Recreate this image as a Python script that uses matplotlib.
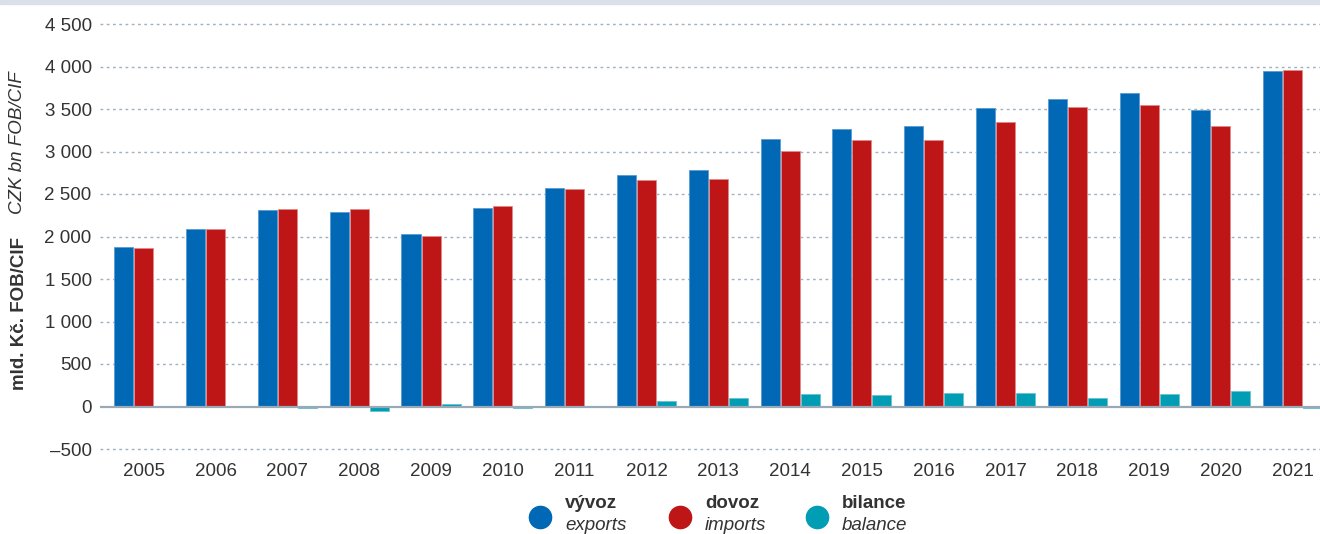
import numpy as np
import matplotlib
matplotlib.use("Agg")
import matplotlib.pyplot as plt
from matplotlib.patches import Rectangle
from matplotlib.lines import Line2D

plt.rcParams['font.family'] = ['Liberation Sans', 'DejaVu Sans']

# data (mld. Kč)
years = ['2005', '2006', '2007', '2008', '2009', '2010', '2011', '2012', '2013',
         '2014', '2015', '2016', '2017', '2018', '2019', '2020', '2021']
exports = [1879, 2087, 2311, 2283, 2035, 2339, 2570, 2728, 2787,
           3150, 3263, 3303, 3512, 3618, 3692, 3484, 3949]
imports = [1870, 2087, 2328, 2327, 2004, 2359, 2563, 2660, 2681,
           3004, 3133, 3138, 3350, 3519, 3543, 3303, 3961]
balance = [9, 0, -22, -48, 28, -22, 5, 62, 104,
           144, 130, 162, 160, 96, 146, 181, -12]
yticks = [-500, 0, 500, 1000, 1500, 2000, 2500, 3000, 3500, 4000, 4500]

c_exp = '#0068b4'
c_imp = '#be1516'
c_bal = '#009db5'
txt = '#333333'
grid_c = '#a3b1bf'
fs = 13.5

W, H = 1320, 534
fig = plt.figure(figsize=(W / 100, H / 100), dpi=100)

# thin band at the very top
fig.patches.append(Rectangle((0, 1 - 3.5 / H), 1, 3.5 / H, transform=fig.transFigure,
                             color='#d9e0e7', zorder=0))

ax = fig.add_axes([100 / W, (H - 449) / H, 1 - 100 / W, 425 / H])

x = np.arange(len(years))
bw = 0.265
step = 0.279
ax.bar(x - step, exports, bw, color=c_exp, edgecolor='#5a9bd0', linewidth=0.6, zorder=3)
ax.bar(x, imports, bw, color=c_imp, edgecolor='#e08a8c', linewidth=0.6, zorder=3)
ax.bar(x + step, balance, bw, color=c_bal, edgecolor='#66c4d3', linewidth=0.6, zorder=3)

ax.set_xlim(-0.61, 16.38)
ax.set_ylim(-500, 4500)

# dotted grid, solid zero line
for v in yticks:
    if v == 0:
        ax.axhline(0, color='#9aa9b6', linewidth=1.6, zorder=4)
    else:
        ax.axhline(v, color=grid_c, linewidth=1.0, linestyle=(0, (2, 2.5)),
                   zorder=1, clip_on=False)

def fmt(v):
    s = f"{abs(v):,}".replace(",", " ")
    return ("\u2013" + s) if v < 0 else s

ax.set_yticks(yticks)
ax.set_yticklabels([fmt(v) for v in yticks])
ax.set_xticks(x)
ax.set_xticklabels(years)
ax.tick_params(axis='y', length=0, pad=6, labelsize=fs, labelcolor=txt)
ax.tick_params(axis='x', length=0, pad=10, labelsize=fs, labelcolor=txt)
for s in ax.spines.values():
    s.set_visible(False)

# axis titles
fig.text(20 / W, (H - 313) / H, 'mld. Kč. FOB/CIF', rotation=90, ha='center', va='center',
         fontsize=fs, fontweight='bold', color=txt)
fig.text(18 / W, (H - 143) / H, 'CZK bn FOB/CIF', rotation=90, ha='center', va='center',
         fontsize=fs, fontstyle='italic', color=txt)

# legend
items = [(540, c_exp, 'vývoz', 'exports'),
         (680, c_imp, 'dovoz', 'imports'),
         (817, c_bal, 'bilance', 'balance')]
for px, col, cz, en in items:
    fig.add_artist(Line2D([px / W], [(H - 517) / H], marker='o', markersize=16,
                          color=col, linestyle='none', transform=fig.transFigure))
    fig.text((px + 25) / W, (H - 504) / H, cz, ha='left', va='center',
             fontsize=fs, fontweight='bold', color=txt)
    fig.text((px + 25) / W, (H - 526) / H, en, ha='left', va='center',
             fontsize=fs, fontstyle='italic', color=txt)

fig.savefig('out.png', dpi=100, facecolor='white')
